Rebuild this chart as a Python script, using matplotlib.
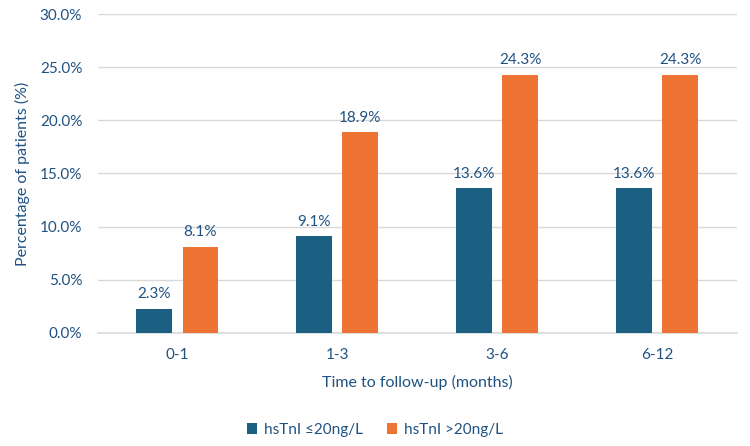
import matplotlib
matplotlib.use("Agg")
import matplotlib.pyplot as plt
import numpy as np

categories = ["0-1", "1-3", "3-6", "6-12"]
low_vals = [2.3, 9.1, 13.6, 13.6]
high_vals = [8.1, 18.9, 24.3, 24.3]
series_names = ["hsTnI \u226420ng/L", "hsTnI >20ng/L"]
yticks = [0, 5, 10, 15, 20, 25, 30]

blue = "#1B6083"
orange = "#EE7433"
txt = "#1F5282"

plt.rcParams['font.family'] = ['Lato', 'DejaVu Sans']

fig = plt.figure(figsize=(7.5, 4.46), dpi=100)
ax = fig.add_axes([0.13, 0.2534, 0.853, 0.7152])

x = np.arange(len(categories))
w = 0.225
off = 0.144
b1 = ax.bar(x - off, low_vals, w, color=blue, label=series_names[0], zorder=3)
b2 = ax.bar(x + off, high_vals, w, color=orange, label=series_names[1], zorder=3)

for bars, vals in ((b1, low_vals), (b2, high_vals)):
    for r, v in zip(bars, vals):
        ax.text(r.get_x() + r.get_width() / 2, v + 0.7, f"{v:.1f}%", ha="center",
                va="bottom", fontsize=11, color=txt)

ax.set_xlim(-0.5, len(categories) - 0.5)
ax.set_ylim(0, 30)
ax.set_yticks(yticks)
ax.set_yticklabels([f"{t:.1f}%" for t in yticks])
ax.set_xticks(x)
ax.set_xticklabels(categories)
ax.tick_params(axis='both', length=0, colors=txt, labelsize=11)
ax.tick_params(axis='y', pad=11)
ax.tick_params(axis='x', pad=11)
ax.yaxis.grid(True, color="#D9D9D9", linewidth=1, zorder=0)
for s in ["top", "right", "left"]:
    ax.spines[s].set_visible(False)
ax.spines["bottom"].set_color("#D9D9D9")
ax.spines["bottom"].set_linewidth(1.2)

ax.set_xlabel("Time to follow-up (months)", fontsize=11.5, color=txt, labelpad=9)
ax.set_ylabel("Percentage of patients (%)", fontsize=11.5, color=txt, labelpad=7)

fig.legend(handles=[b1, b2], labels=series_names, loc="center", bbox_to_anchor=(0.5, 0.036),
           ncol=2, frameon=False, fontsize=11, labelcolor=txt, handlelength=0.65,
           handleheight=0.65, handletextpad=0.45, columnspacing=1.6)

fig.savefig("out.png", dpi=100)
